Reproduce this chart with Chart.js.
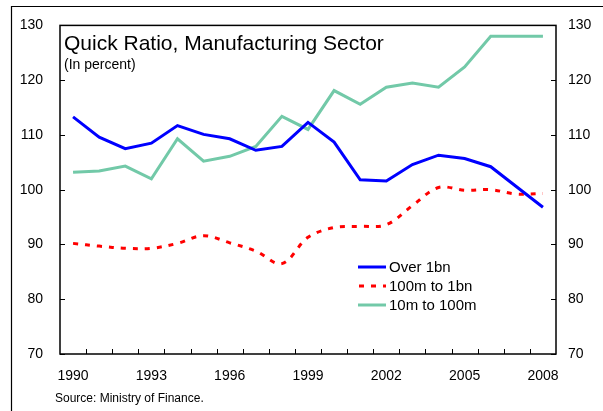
<!DOCTYPE html>
<html>
<head>
<meta charset="utf-8">
<script src="https://cdn.jsdelivr.net/npm/chart.js@4/dist/chart.umd.min.js"></script>
<style>
html,body{margin:0;padding:0;background:#fff;}
#wrap{width:603px;height:411px;position:relative;}
</style>
</head>
<body>
<div id="wrap"><canvas id="c" width="603" height="411"></canvas></div>
<script>
const years = ["1990","1991","1992","1993","1994","1995","1996","1997","1998","1999","2000","2001","2002","2003","2004","2005","2006","2007","2008"];
const over1bn = [113.3,109.6,107.5,108.5,111.7,110.1,109.3,107.2,107.9,112.3,108.7,101.8,101.6,104.6,106.3,105.7,104.2,100.5,96.8];
const m100to1bn = [90.2,89.7,89.3,89.3,90.2,91.6,90.3,88.8,86.5,91.3,93.1,93.3,93.6,97.1,100.4,99.9,100.0,99.2,99.3];
const m10to100m = [103.2,103.4,104.3,102.0,109.3,105.2,106.1,107.9,113.4,111.0,118.1,115.6,118.7,119.5,118.7,122.4,128.0,128.0,128.0];
const yTicks = [70,80,90,100,110,120,130];
const titleText = "Quick Ratio, Manufacturing Sector";
const subtitleText = "(In percent)";
const sourceText = "Source: Ministry of Finance.";
const seriesNames = ["Over 1bn","100m to 1bn","10m to 100m"];

const FONT = '"Liberation Sans", Arial, sans-serif';

const decor = {
  id: 'decor',
  afterDraw(chart) {
    const ctx = chart.ctx;
    const a = chart.chartArea;
    const x = chart.scales.x, y = chart.scales.y;
    ctx.save();
    // outer frame
    ctx.strokeStyle = '#000';
    ctx.lineWidth = 1.2;
    ctx.beginPath();
    ctx.moveTo(11.5, 420); ctx.lineTo(11.5, 6.5); ctx.lineTo(620, 6.5);
    ctx.stroke();
    // plot box
    ctx.lineWidth = 1.5;
    ctx.strokeRect(a.left, a.top, a.right - a.left, a.bottom - a.top);
    // inward ticks
    ctx.lineWidth = 1;
    ctx.beginPath();
    yTicks.forEach(v => {
      const py = Math.round(y.getPixelForValue(v)) + 0.5;
      ctx.moveTo(a.left, py); ctx.lineTo(a.left + 5, py);
      ctx.moveTo(a.right, py); ctx.lineTo(a.right - 5, py);
    });
    const n = years.length;
    for (let i = 1; i < n; i++) {
      const px = Math.round((x.getPixelForValue(i - 1) + x.getPixelForValue(i)) / 2) + 0.5;
      ctx.moveTo(px, a.bottom); ctx.lineTo(px, a.bottom - 5);
    }
    ctx.stroke();
    // title
    ctx.fillStyle = '#000';
    ctx.textAlign = 'left';
    ctx.textBaseline = 'alphabetic';
    ctx.font = '21px ' + FONT;
    ctx.fillText(titleText, a.left + 4, 50);
    ctx.font = '14px ' + FONT;
    ctx.fillText(subtitleText, a.left + 4, 69);
    // source
    ctx.font = '12px ' + FONT;
    ctx.textBaseline = 'middle';
    ctx.fillText(sourceText, 55, 399);
    // legend
    const ds = chart.data.datasets;
    const rows = [267, 286, 305];
    ctx.font = '15px ' + FONT;
    ds.forEach((d, i) => {
      ctx.save();
      ctx.strokeStyle = d.borderColor;
      ctx.lineWidth = d.borderWidth;
      ctx.setLineDash(d.borderDash || []);
      ctx.beginPath();
      if (d.borderDash) { ctx.moveTo(359, rows[i]); ctx.lineTo(386, rows[i]); }
      else { ctx.moveTo(358, rows[i]); ctx.lineTo(386, rows[i]); }
      ctx.stroke();
      ctx.restore();
      ctx.fillStyle = '#000';
      ctx.textBaseline = 'middle';
      ctx.fillText(d.label, 389, rows[i] + 1);
    });
    ctx.restore();
  }
};

new Chart(document.getElementById('c'), {
  type: 'line',
  data: {
    labels: years,
    datasets: [
      { label: seriesNames[0], data: over1bn, borderColor: '#0000ff', borderWidth: 3, pointRadius: 0, tension: 0, fill: false },
      { label: seriesNames[1], data: m100to1bn, borderColor: '#ff0000', borderWidth: 3, borderDash: [5, 7], pointRadius: 0, tension: 0.35, fill: false },
      { label: seriesNames[2], data: m10to100m, borderColor: '#72c9a8', borderWidth: 3, pointRadius: 0, tension: 0, fill: false }
    ]
  },
  options: {
    responsive: false,
    animation: false,
    events: [],
    layout: { padding: { top: 22, left: 0, right: 0, bottom: 0 } },
    plugins: { legend: { display: false }, tooltip: { enabled: false }, title: { display: false } },
    scales: {
      x: {
        offset: true,
        grid: { display: false, drawTicks: false },
        border: { display: false },
        ticks: {
          autoSkip: false, maxRotation: 0, padding: 14,
          color: '#000', font: { family: FONT, size: 14 },
          callback: function(v, i) { return i % 3 === 0 ? years[i] : ''; }
        },
        afterFit(s) { s.height = 57; }
      },
      y: {
        position: 'left', min: 70, max: 130,
        grid: { display: false, drawTicks: false },
        border: { display: false },
        ticks: { stepSize: 10, padding: 17, color: '#000', font: { family: FONT, size: 14 } },
        afterFit(s) { s.width = 60; }
      },
      y2: {
        position: 'right', min: 70, max: 130,
        grid: { display: false, drawTicks: false },
        border: { display: false },
        ticks: { stepSize: 10, padding: 12, color: '#000', font: { family: FONT, size: 14 } },
        afterFit(s) { s.width = 47; }
      }
    }
  },
  plugins: [decor]
});
</script>
</body>
</html>
